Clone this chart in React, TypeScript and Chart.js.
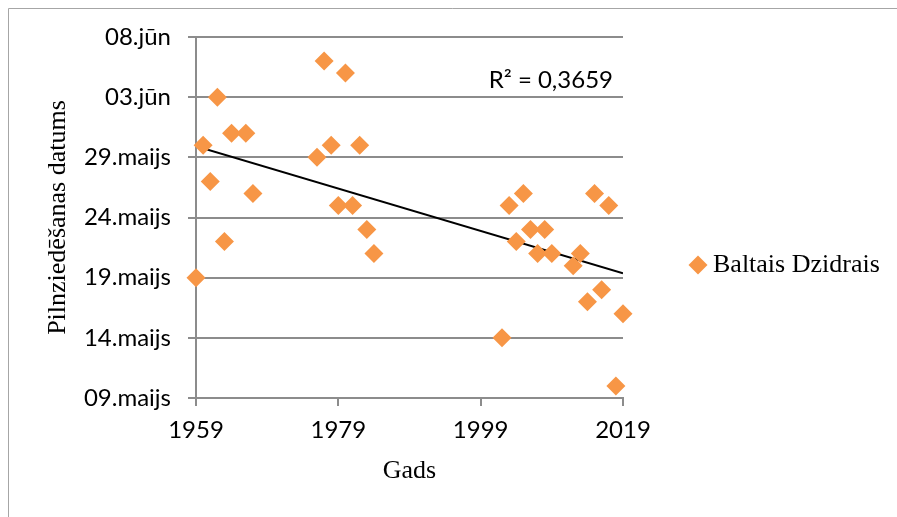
import React, { useEffect, useRef } from "react";
import { Chart, registerables } from "chart.js";

Chart.register(...registerables);

// Data: year and full-bloom day counted from 1 May (June 3 = 34)
const years = [
  1959, 1960, 1961, 1962, 1963, 1964, 1966, 1967,
  1976, 1977, 1978, 1979, 1980, 1981, 1982, 1983, 1984,
  2002, 2003, 2004, 2005, 2006, 2007, 2008, 2009,
  2012, 2013, 2014, 2015, 2016, 2017, 2018, 2019,
];
const bloomDays = [
  19, 30, 27, 34, 22, 31, 31, 26,
  29, 37, 30, 25, 36, 25, 30, 23, 21,
  14, 25, 22, 26, 23, 21, 23, 21,
  20, 21, 17, 26, 18, 25, 10, 16,
];

const yTickValues = [9, 14, 19, 24, 29, 34, 39];
const yTickLabels = ["09.maijs", "14.maijs", "19.maijs", "24.maijs", "29.maijs", "03.jūn", "08.jūn"];
const xTickValues = [1959, 1979, 1999, 2019];

const seriesName = "Baltais Dzidrais";
const xTitle = "Gads";
const yTitle = "Pilnziedēšanas datums";
const r2Label = "R² = 0,3659";

const ORANGE = "#F79646";
const GRID = "#8c8c8c";
const TICK_FONT = "Lato";
const SERIF = "'Liberation Serif', 'Times New Roman', serif";

function linearFit(xs: number[], ys: number[]) {
  const n = xs.length;
  const mx = xs.reduce((a, b) => a + b, 0) / n;
  const my = ys.reduce((a, b) => a + b, 0) / n;
  let sxy = 0;
  let sxx = 0;
  for (let i = 0; i < n; i++) {
    sxy += (xs[i] - mx) * (ys[i] - my);
    sxx += (xs[i] - mx) * (xs[i] - mx);
  }
  const slope = sxy / sxx;
  return { slope, intercept: my - slope * mx };
}

const overlayPlugin = {
  id: "overlay",
  beforeDraw(chart: any) {
    const ctx = chart.ctx;
    ctx.save();
    ctx.fillStyle = "#ffffff";
    ctx.fillRect(0, 0, chart.width, chart.height);
    ctx.strokeStyle = "#a6a6a6";
    ctx.lineWidth = 1;
    ctx.beginPath();
    ctx.moveTo(8.5, chart.height);
    ctx.lineTo(8.5, 8.5);
    ctx.lineTo(chart.width, 8.5);
    ctx.stroke();
    ctx.restore();
  },
  afterDraw(chart: any) {
    const ctx = chart.ctx;
    const area = chart.chartArea;
    ctx.save();
    // R² label
    ctx.fillStyle = "#000";
    ctx.font = `24px ${TICK_FONT}`;
    ctx.textAlign = "right";
    ctx.textBaseline = "middle";
    ctx.fillText(r2Label, area.right - 10, area.top + 43);
    // Legend
    const lx = area.right + 75;
    const ly = area.top + 228;
    const r = 9.5;
    ctx.fillStyle = ORANGE;
    ctx.beginPath();
    ctx.moveTo(lx, ly - r);
    ctx.lineTo(lx + r, ly);
    ctx.lineTo(lx, ly + r);
    ctx.lineTo(lx - r, ly);
    ctx.closePath();
    ctx.fill();
    ctx.fillStyle = "#000";
    ctx.font = `26px ${SERIF}`;
    ctx.textAlign = "left";
    ctx.textBaseline = "middle";
    ctx.fillText(seriesName, lx + 15, ly);
    ctx.restore();
  },
};

export default function App() {
  const canvasRef = useRef<HTMLCanvasElement | null>(null);

  useEffect(() => {
    document.body.style.overflow = "hidden";
    const canvas = canvasRef.current;
    if (!canvas) return;
    const { slope, intercept } = linearFit(years, bloomDays);
    const xMin = xTickValues[0];
    const xMax = xTickValues[xTickValues.length - 1];
    const trend = [
      { x: xMin, y: intercept + slope * xMin },
      { x: xMax, y: intercept + slope * xMax },
    ];
    const points = years.map((y, i) => ({ x: y, y: bloomDays[i] }));

    const chart = new Chart(canvas, {
      type: "scatter",
      data: {
        datasets: [
          {
            label: seriesName,
            data: points,
            pointStyle: "rectRot",
            pointRadius: 9.5,
            pointHoverRadius: 9.5,
            backgroundColor: ORANGE,
            borderWidth: 0,
            clip: false,
          } as any,
          {
            type: "line",
            label: "trend",
            data: trend,
            borderColor: "#000",
            borderWidth: 2,
            pointRadius: 0,
            showLine: true,
            fill: false,
          } as any,
        ],
      },
      options: {
        animation: false,
        responsive: true,
        maintainAspectRatio: false,
        layout: { padding: { left: 0, top: 37, right: 274, bottom: 0 } },
        plugins: { legend: { display: false }, tooltip: { enabled: false } },
        scales: {
          x: {
            type: "linear",
            min: xMin,
            max: xMax,
            afterFit: (s: any) => {
              s.height = 119;
            },
            afterBuildTicks: (s: any) => {
              s.ticks = xTickValues.map((v) => ({ value: v }));
            },
            ticks: {
              color: "#000",
              font: { family: TICK_FONT, size: 24 },
              padding: 10,
              maxRotation: 0,
              callback: (v: any) => String(v),
            },
            grid: {
              drawOnChartArea: false,
              drawTicks: true,
              tickLength: 8,
              color: GRID,
              lineWidth: 2,
            },
            border: { color: GRID, width: 2 },
            title: {
              display: true,
              text: xTitle,
              color: "#000",
              font: { family: SERIF, size: 26, lineHeight: 1 },
              padding: { top: 0, bottom: 33 },
            },
          },
          y: {
            type: "linear",
            min: yTickValues[0],
            max: yTickValues[yTickValues.length - 1],
            afterFit: (s: any) => {
              s.width = 196;
            },
            afterBuildTicks: (s: any) => {
              s.ticks = yTickValues.map((v) => ({ value: v }));
            },
            ticks: {
              color: "#000",
              font: { family: TICK_FONT, size: 24 },
              padding: 17,
              callback: (v: any) => {
                const i = yTickValues.indexOf(Number(v));
                return i >= 0 ? yTickLabels[i] : "";
              },
            },
            grid: {
              drawTicks: true,
              tickLength: 8,
              color: GRID,
              lineWidth: 2,
            },
            border: { color: GRID, width: 2 },
            title: {
              display: true,
              text: yTitle,
              color: "#000",
              font: { family: SERIF, size: 26, lineHeight: 1 },
              padding: { top: 45, bottom: 0 },
            },
          },
        },
      },
      plugins: [overlayPlugin],
    });
    return () => chart.destroy();
  }, []);

  return (
    <div style={{ position: "fixed", left: 0, top: 0, width: 897, height: 517 }}>
      <canvas ref={canvasRef} />
    </div>
  );
}
